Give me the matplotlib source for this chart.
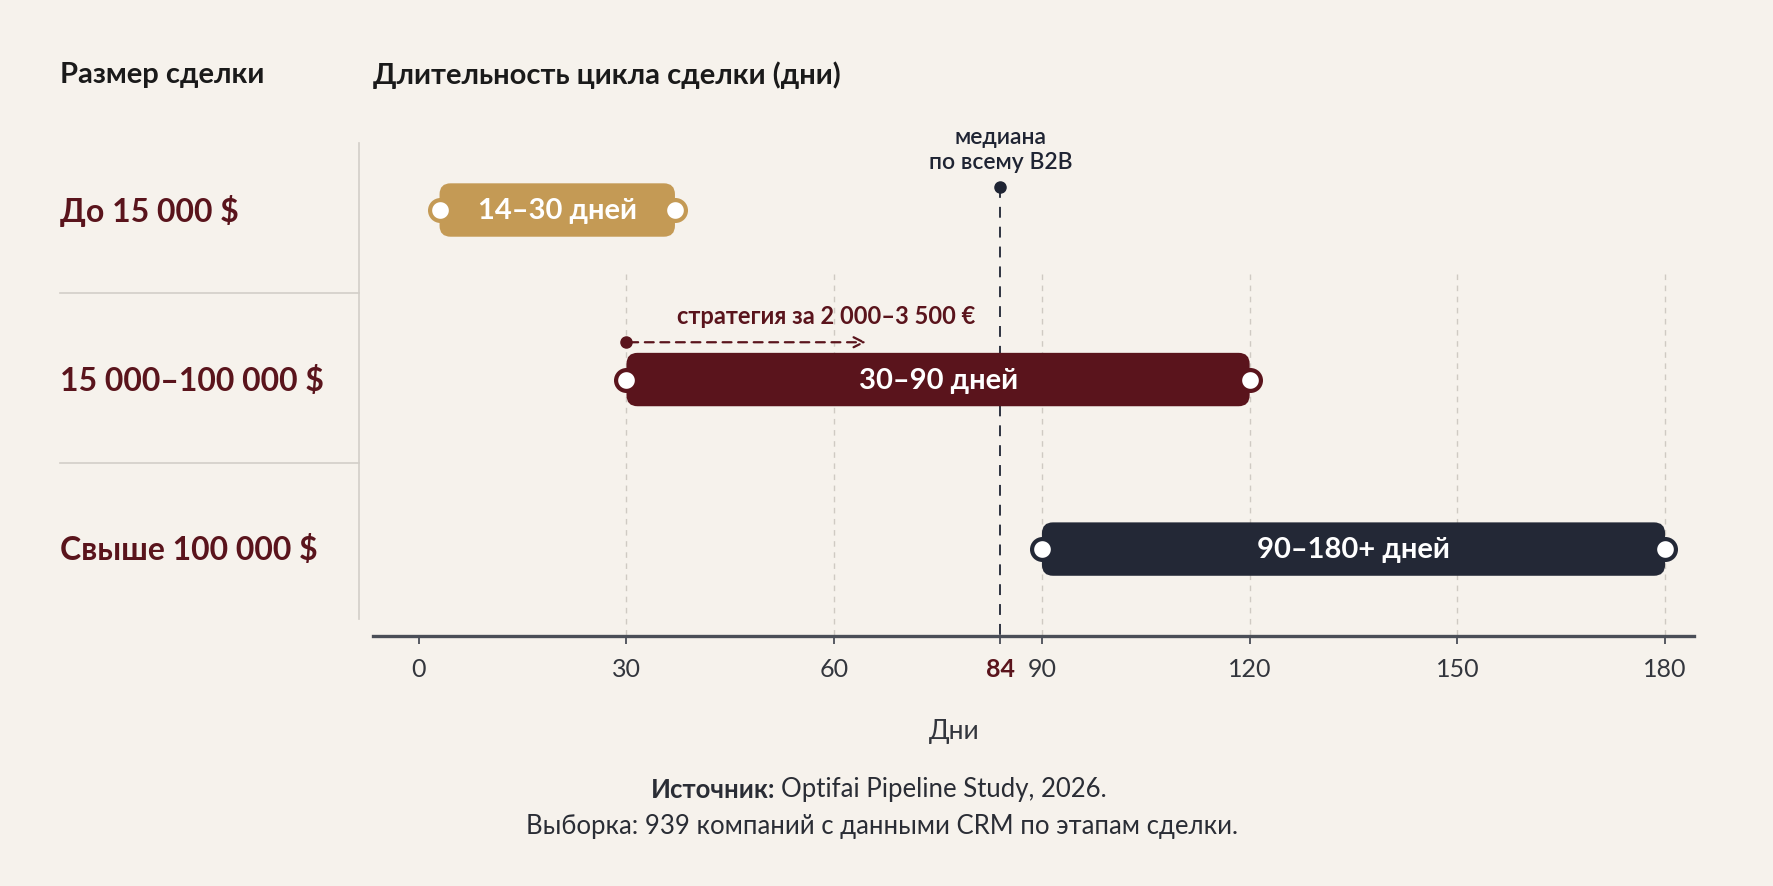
import matplotlib
matplotlib.use("Agg")
import matplotlib.pyplot as plt
import matplotlib.transforms as mtransforms
from matplotlib.patches import FancyBboxPatch
from matplotlib.lines import Line2D

plt.rcParams['font.family'] = ['Lato', 'DejaVu Sans']

# данные
segments = ['До 15 000 $', '15 000–100 000 $', 'Свыше 100 000 $']
bar_start = [3, 30, 90]
bar_end = [37, 120, 180]
bar_labels = ['14–30 дней', '30–90 дней', '90–180+ дней']
bar_colors = ['#C49A55', '#5A141C', '#232836']
ticks = [0, 30, 60, 84, 90, 120, 150, 180]
median_day = 84
strategy_from, strategy_to = 30, 65

BG = '#F6F2EC'
NAVY = '#1F2433'
MAROON = '#5A141C'
GRID = '#CFCAC3'

fig = plt.figure(figsize=(17.74, 8.87), dpi=100, facecolor=BG)
ax = fig.add_axes([0.2103, 0.2818, 0.7447, 0.5558])
ax.set_facecolor(BG)
ax.set_xlim(-6.6, 184.2)
ax.set_ylim(2.513, -0.395)

for s in ['top', 'right', 'left']:
    ax.spines[s].set_visible(False)
ax.spines['bottom'].set_color('#4A4E57')
ax.spines['bottom'].set_linewidth(2.4)

ax.set_yticks([])
ax.set_xticks(ticks)
ax.set_xticklabels([str(t) for t in ticks])
ax.tick_params(axis='x', length=6, width=1.3, color='#4A4E57', pad=9,
               labelsize=18, labelcolor='#33363D')
for lab, t in zip(ax.get_xticklabels(), ticks):
    if t == median_day:
        lab.set_color(MAROON)
        lab.set_fontweight('bold')

# сетка
for t in ticks:
    if t == 0 or t == median_day:
        continue
    ax.plot([t, t], [0.38, 2.513], color=GRID, lw=1.0, ls=(0, (4, 4)), zorder=1)

# медиана
ax.plot([median_day, median_day], [-0.136, 2.513], color=NAVY, lw=1.3,
        ls=(0, (6, 5)), zorder=2)
ax.plot(median_day, -0.136, 'o', color=NAVY, ms=8, zorder=5)
ax.text(median_day, -0.225, 'медиана\nпо всему B2B', ha='center', va='bottom',
        fontsize=16.5, fontweight='semibold', color=NAVY, linespacing=1.2)

# полосы
bar_h = 0.315
for i in range(len(segments)):
    x0, x1 = bar_start[i], bar_end[i]
    box = FancyBboxPatch((x0, i - bar_h / 2), x1 - x0, bar_h,
                         boxstyle='round,pad=0,rounding_size=1.6',
                         mutation_aspect=0.0408, facecolor=bar_colors[i],
                         edgecolor='none', zorder=3)
    ax.add_patch(box)
    ax.plot([x0, x1], [i, i], 'o', ms=15, mfc='white', mec=bar_colors[i],
            mew=3, ls='none', zorder=4)
    ax.text((x0 + x1) / 2, i, bar_labels[i], ha='center', va='center',
            fontsize=21, fontweight='bold', color='white', zorder=5)

# стрелка стратегии
ax.annotate('', xy=(strategy_to, 0.78), xytext=(strategy_from, 0.78),
            arrowprops=dict(arrowstyle='->', color=MAROON, lw=1.6,
                            ls=(0, (4, 3)), mutation_scale=18), zorder=4)
ax.plot(strategy_from, 0.78, 'o', color=MAROON, ms=8, zorder=5)
ax.text(37.3, 0.625, 'стратегия за 2 000–3 500 €', ha='left', va='center',
        fontsize=17, fontweight='bold', color=MAROON)

# левая колонка
blend = mtransforms.blended_transform_factory(fig.transFigure, ax.transData)
for i, seg in enumerate(segments):
    fig.text(60 / 1774, i, seg, transform=blend, ha='left', va='center',
             fontsize=23, fontweight='bold', color=MAROON)
for yb in [0.49, 1.49]:
    fig.add_artist(Line2D([60 / 1774, 359 / 1774], [yb, yb], transform=blend,
                          color='#D3CEC8', lw=1.2))
fig.add_artist(Line2D([359 / 1774, 359 / 1774], [1 - 144 / 887, 1 - 620 / 887],
                      transform=fig.transFigure, color='#D3CEC8', lw=1.2))

# заголовки
fig.text(60 / 1774, 1 - 75 / 887, 'Размер сделки', ha='left', va='center',
         fontsize=21, fontweight='bold', color='#1A1A1A')
fig.text(373 / 1774, 1 - 75 / 887, 'Длительность цикла сделки (дни)', ha='left',
         va='center', fontsize=21, fontweight='bold', color='#1A1A1A')

fig.text(954 / 1774, 1 - 732 / 887, 'Дни', ha='center', va='center',
         fontsize=19, color='#33363D')

# источник
fig.text(775 / 1774, 1 - 790 / 887, 'Источник:', ha='right', va='center',
         fontsize=18.5, fontweight='bold', color='#2A2D35')
fig.text(781 / 1774, 1 - 790 / 887, 'Optifai Pipeline Study, 2026.', ha='left',
         va='center', fontsize=18.5, color='#2A2D35')
fig.text(882 / 1774, 1 - 827 / 887,
         'Выборка: 939 компаний с данными CRM по этапам сделки.',
         ha='center', va='center', fontsize=18.5, color='#2A2D35')

fig.savefig('out.png', dpi=100, facecolor=BG)
